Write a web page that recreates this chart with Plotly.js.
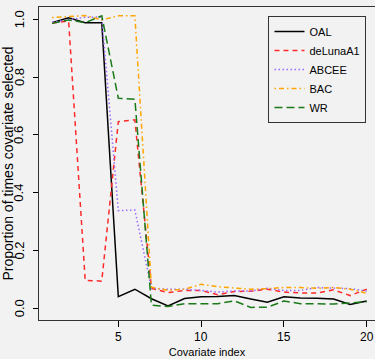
<!DOCTYPE html>
<html>
<head>
<meta charset="utf-8">
<script src="https://cdn.plot.ly/plotly-3.0.1.min.js"></script>
<style>html,body{margin:0;padding:0;background:#f2f2f2;}#chart{width:375px;height:359px;}</style>
</head>
<body>
<div id="chart"></div>
<script>
const covariateIndex = [1,2,3,4,5,6,7,8,9,10,11,12,13,14,15,16,17,18,19,20];
const seriesNames = ["OAL", "deLunaA1", "ABCEE", "BAC", "WR"];
const OAL      = [0.988,1.005,0.988,0.988,0.040,0.066,0.033,0.008,0.034,0.040,0.041,0.044,0.032,0.021,0.040,0.036,0.035,0.032,0.013,0.025];
const deLunaA1 = [0.987,0.994,0.097,0.094,0.646,0.652,0.069,0.054,0.062,0.062,0.047,0.058,0.059,0.066,0.056,0.053,0.053,0.064,0.044,0.066];
const ABCEE    = [0.990,0.998,1.007,1.008,0.338,0.340,0.069,0.066,0.066,0.062,0.056,0.060,0.060,0.069,0.062,0.062,0.072,0.070,0.068,0.060];
const BAC      = [1.006,1.009,1.013,0.998,1.012,1.012,0.073,0.062,0.066,0.083,0.075,0.070,0.066,0.068,0.072,0.072,0.069,0.072,0.066,0.052];
const WR       = [0.986,0.998,0.988,1.012,0.727,0.723,0.011,0.006,0.016,0.015,0.016,0.026,0.003,0.004,0.025,0.016,0.015,0.015,0.018,0.023];
const xTicks = [5,10,15,20];
const yTicks = [0,0.2,0.4,0.6,0.8,1.0];
const yTickLabels = ["0.0","0.2","0.4","0.6","0.8","1.0"];

const values = [OAL, deLunaA1, ABCEE, BAC, WR];
const styles = [
  {color:"#000000", dash:"solid"},
  {color:"#ff2a2a", dash:"5px,4px"},
  {color:"#9a66ff", dash:"1.5px,2.5px"},
  {color:"#ffa500", dash:"1.5px,3px,5px,3px"},
  {color:"#1a7a1a", dash:"8px,4px"}
];
const FONT = "'Liberation Sans', Arial, sans-serif";

const traces = values.map((v,i)=>({
  x: covariateIndex, y: v, type:"scatter", mode:"lines", name: seriesNames[i],
  line:{color:styles[i].color, dash:styles[i].dash, width:1.5}
}));

const annotations = [];
xTicks.forEach(t => annotations.push({
  x:t, xref:"x", y:0, yref:"paper", yanchor:"top", xanchor:"center", yshift:-8,
  text:String(t), showarrow:false, font:{family:FONT, size:12, color:"#000"}
}));
yTicks.forEach((t,i) => annotations.push({
  x:0, xref:"paper", y:t, yref:"y", xanchor:"center", yanchor:"middle", xshift:-20,
  textangle:-90, text:yTickLabels[i], showarrow:false, font:{family:FONT, size:13, color:"#000"}
}));

const layout = {
  width:375, height:359,
  margin:{l:39, r:0, t:7, b:39},
  paper_bgcolor:"#f2f2f2", plot_bgcolor:"#f2f2f2",
  font:{family:FONT, size:12, color:"#000"},
  showlegend:true,
  legend:{x:0.683, y:0.971, xanchor:"left", yanchor:"top", bordercolor:"#333", borderwidth:1,
          bgcolor:"rgba(0,0,0,0)", font:{family:FONT, size:11}, tracegroupgap:0},
  xaxis:{range:[0.21,20.5], tickvals:xTicks, showticklabels:false, ticks:"outside", ticklen:6, tickcolor:"#000",
         showline:true, linecolor:"#333", linewidth:1, mirror:true, showgrid:false, zeroline:false,
         title:{text:"Covariate index", font:{family:FONT, size:11}, standoff:22}},
  yaxis:{range:[-0.0405,1.0426], tickvals:yTicks, showticklabels:false, ticks:"outside", ticklen:5, tickcolor:"#000",
         showline:true, linecolor:"#333", linewidth:1, showgrid:false, zeroline:false,
         title:{text:"Proportion of times covariate selected", font:{family:FONT, size:14}, standoff:18}},
  annotations: annotations
};
Plotly.newPlot("chart", traces, layout, {displayModeBar:false, staticPlot:true});
</script>
</body>
</html>
